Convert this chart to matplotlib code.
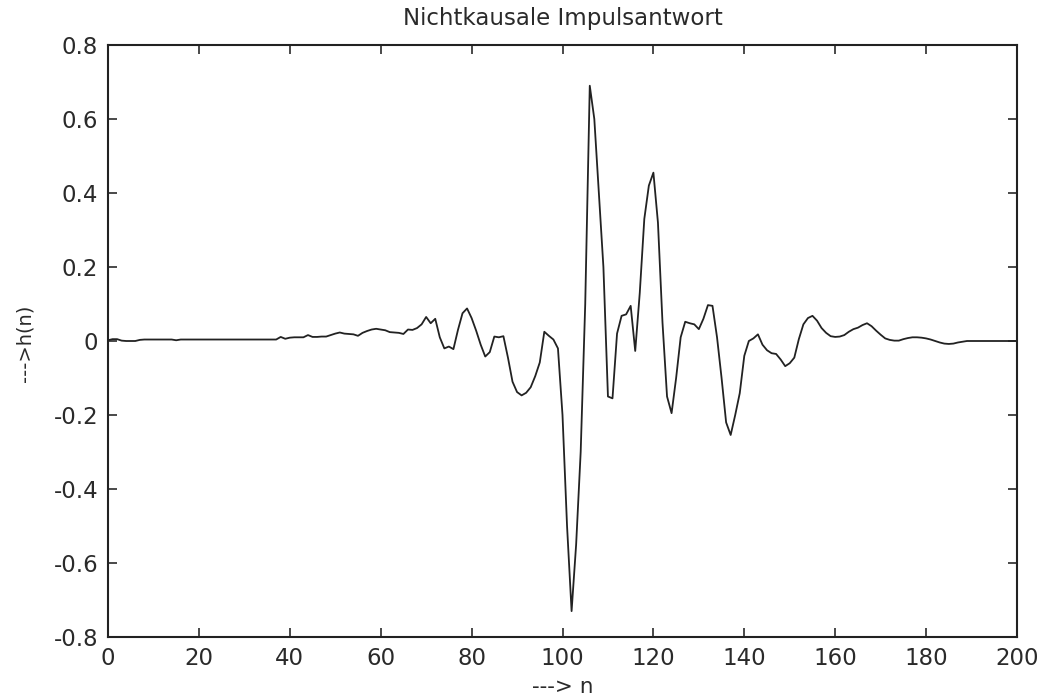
import matplotlib
matplotlib.use("Agg")
import matplotlib.pyplot as plt
import numpy as np

# sample index n = 0..200
h_values = [
    # 0-9
    0.002, 0.005, 0.005, 0.001, 0.000, 0.000, 0.000, 0.003, 0.004, 0.004,
    # 10-19
    0.004, 0.004, 0.004, 0.004, 0.004, 0.002, 0.004, 0.004, 0.004, 0.004,
    # 20-29
    0.004, 0.004, 0.004, 0.004, 0.004, 0.004, 0.004, 0.004, 0.004, 0.004,
    # 30-39
    0.004, 0.004, 0.004, 0.004, 0.004, 0.004, 0.004, 0.004, 0.011, 0.006,
    # 40-49
    0.009, 0.010, 0.010, 0.010, 0.016, 0.011, 0.011, 0.012, 0.012, 0.016,
    # 50-59
    0.020, 0.023, 0.020, 0.019, 0.018, 0.014, 0.022, 0.027, 0.031, 0.033,
    # 60-69
    0.031, 0.029, 0.024, 0.023, 0.022, 0.019, 0.031, 0.030, 0.035, 0.045,
    # 70-79
    0.065, 0.048, 0.060, 0.010, -0.020, -0.015, -0.022, 0.030, 0.075, 0.088,
    # 80-89
    0.062, 0.028, -0.010, -0.042, -0.030, 0.012, 0.010, 0.013, -0.045, -0.110,
    # 90-99
    -0.138, -0.147, -0.140, -0.125, -0.095, -0.058, 0.025, 0.014, 0.004, -0.020,
    # 100-109
    -0.200, -0.500, -0.730, -0.550, -0.300, 0.100, 0.690, 0.600, 0.400, 0.200,
    # 110-119
    -0.150, -0.155, 0.020, 0.068, 0.072, 0.095, -0.027, 0.130, 0.330, 0.420,
    # 120-129
    0.455, 0.320, 0.050, -0.150, -0.195, -0.100, 0.010, 0.052, 0.048, 0.045,
    # 130-139
    0.032, 0.060, 0.097, 0.095, 0.010, -0.100, -0.220, -0.254, -0.200, -0.141,
    # 140-149
    -0.040, 0.000, 0.007, 0.018, -0.010, -0.025, -0.033, -0.035, -0.050, -0.068,
    # 150-159
    -0.060, -0.045, 0.005, 0.045, 0.062, 0.068, 0.055, 0.035, 0.022, 0.013,
    # 160-169
    0.011, 0.012, 0.016, 0.025, 0.032, 0.036, 0.043, 0.048, 0.040, 0.028,
    # 170-179
    0.017, 0.007, 0.003, 0.001, 0.001, 0.005, 0.008, 0.010, 0.010, 0.009,
    # 180-189
    0.007, 0.004, 0.000, -0.004, -0.007, -0.008, -0.007, -0.004, -0.002, 0.000,
    # 190-200
    0.000, 0.000, 0.000, 0.000, 0.000, 0.000, 0.000, 0.000, 0.000, 0.000, 0.000,
]
n_values = list(range(len(h_values)))

x_ticks = [0, 20, 40, 60, 80, 100, 120, 140, 160, 180, 200]
y_ticks = [-0.8, -0.6, -0.4, -0.2, 0, 0.2, 0.4, 0.6, 0.8]
y_tick_labels = ["-0.8", "-0.6", "-0.4", "-0.2", "0", "0.2", "0.4", "0.6", "0.8"]

title_text = "Nichtkausale Impulsantwort"
xlabel_text = "---> n"
ylabel_text = "--->h(n)"

plt.rcParams['font.family'] = ['DejaVu Sans']

fig = plt.figure(figsize=(10.42, 6.97), dpi=100)
ax = fig.add_axes([108 / 1042, 1 - 637 / 697, (1017 - 108) / 1042, (637 - 45) / 697])

ax.plot(n_values, h_values, color="#222222", linewidth=1.3)

ax.set_xlim(0, 200)
ax.set_ylim(-0.8, 0.8)
ax.set_xticks(x_ticks)
ax.set_xticklabels([str(t) for t in x_ticks])
ax.set_yticks(y_ticks)
ax.set_yticklabels(y_tick_labels)

ax.tick_params(direction="in", length=6.5, width=1.2, top=True, right=True,
               labelsize=16.5, pad=7, colors="#2a2a2a")
for s in ax.spines.values():
    s.set_linewidth(1.5)
    s.set_color("#222222")

fig.text(0.5 * (108 + 1017) / 1042, 1 - 18 / 697, title_text, ha="center", va="center",
         fontsize=16.5, color="#2a2a2a")
fig.text(0.5 * (108 + 1017) / 1042, 1 - 687 / 697, xlabel_text, ha="center", va="center",
         fontsize=15.5, color="#2a2a2a")
fig.text(25 / 1042, 1 - 343 / 697, ylabel_text, ha="center", va="center", rotation=90,
         fontsize=14, color="#2a2a2a")

fig.savefig("out.png", dpi=100, facecolor="white")
